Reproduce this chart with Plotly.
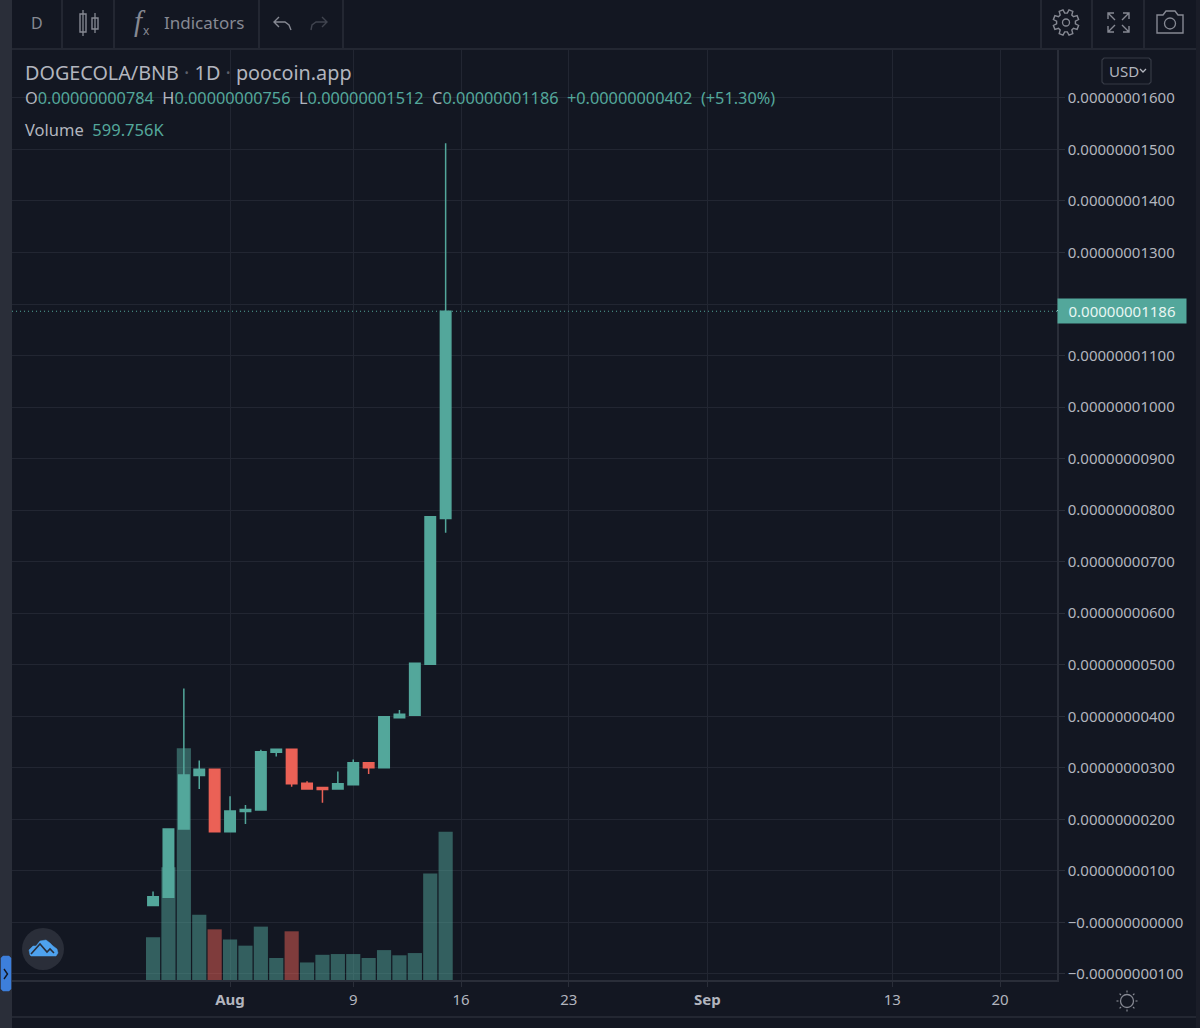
import math
import re
import plotly.graph_objects as go

# prices are in units of 1e-11 BNB, volume in thousands
dates = ["2021-07-27", "2021-07-28", "2021-07-29", "2021-07-30", "2021-07-31",
         "2021-08-01", "2021-08-02", "2021-08-03", "2021-08-04", "2021-08-05",
         "2021-08-06", "2021-08-07", "2021-08-08", "2021-08-09", "2021-08-10",
         "2021-08-11", "2021-08-12", "2021-08-13", "2021-08-14", "2021-08-15"]
opens = [33, 49, 181, 285, 297, 176, 215, 218, 330, 336, 270, 262, 259, 267, 310, 300, 397, 402, 501, 784]
closes = [50, 181, 286, 297, 176, 216, 219, 331, 336, 269, 259, 258, 269, 310, 300, 399, 404, 503, 787, 1186]
highs = [60, 181, 454, 314, 297, 245, 228, 335, 336, 336, 274, 262, 293, 316, 310, 399, 412, 503, 787, 1512]
lows = [33, 49, 181, 259, 176, 176, 191, 218, 322, 263, 259, 232, 259, 267, 288, 300, 397, 402, 501, 756]
volumes = [173, 456, 938, 264, 205, 164, 139, 216, 89, 197, 71, 102, 105, 105, 89, 121, 100, 109, 431, 600]
# only two volume bars are red in the picture
volume_red = ["2021-07-31", "2021-08-05"]

price_ticks = [1600, 1500, 1400, 1300, 1200, 1100, 1000, 900, 800, 700, 600, 500, 400, 300, 200, 100, 0, -100]
# the 1200 label sits behind the last price tag
price_labels = ["0.00000001600", "0.00000001500", "0.00000001400", "0.00000001300", "",
                "0.00000001100", "0.00000001000", "0.00000000900", "0.00000000800", "0.00000000700",
                "0.00000000600", "0.00000000500", "0.00000000400", "0.00000000300", "0.00000000200",
                "0.00000000100", "\u22120.00000000000", "\u22120.00000000100"]
date_ticks = ["2021-08-01", "2021-08-09", "2021-08-16", "2021-08-23", "2021-09-01", "2021-09-13", "2021-09-20"]
date_labels = ["<b>Aug</b>", "9", "16", "23", "<b>Sep</b>", "13", "20"]
last_close = 1186

W, H = 1200, 1028
L, R, T, B = 12, 1057, 50, 980
BG = "#131722"
GRID = "#222632"
EDGE = "#2a2e39"
TEXT = "#b2b5be"
ICON = "#868993"
UP = "#53a79b"
DOWN = "#eb6156"
FONT = "Noto Sans, sans-serif"


def fx(x):
    return (x - L) / (R - L)


def fy(y):
    return (B - y) / (B - T)


def path(d):
    # pixel path -> paper path
    nums = iter(re.findall(r"[MLZ]|-?[\d.]+", d))
    out = []
    for tok in nums:
        if tok in "MLZ":
            out.append(tok)
        else:
            out.append(f"{fx(float(tok))},{fy(float(next(nums)))}")
    s = ""
    for tok in out:
        s += tok if tok in "MLZ" else tok + " "
    return s


shapes = []
notes = []


def line_px(x0, y0, x1, y1, color=EDGE, width=1.5):
    shapes.append(dict(type="line", xref="paper", yref="paper", x0=fx(x0), x1=fx(x1), y0=fy(y0), y1=fy(y1),
                       line=dict(color=color, width=width)))


def rect_px(x0, y0, x1, y1, fill, color=None, width=0):
    shapes.append(dict(type="rect", xref="paper", yref="paper", x0=fx(x0), x1=fx(x1), y0=fy(y0), y1=fy(y1),
                       fillcolor=fill, line=dict(color=color or fill, width=width)))


def circle_px(cx, cy, r, fill="rgba(0,0,0,0)", color=ICON, width=1.3):
    shapes.append(dict(type="circle", xref="paper", yref="paper", x0=fx(cx - r), x1=fx(cx + r),
                       y0=fy(cy + r), y1=fy(cy - r), fillcolor=fill, line=dict(color=color, width=width)))


def path_px(d, color=ICON, width=1.4, fill="rgba(0,0,0,0)"):
    shapes.append(dict(type="path", xref="paper", yref="paper", path=path(d), fillcolor=fill,
                       line=dict(color=color, width=width)))


def text_px(x, y, text, size=15, color=TEXT, anchor="left", family=FONT):
    notes.append(dict(x=fx(x), y=fy(y), xref="paper", yref="paper", text=text, showarrow=False,
                      xanchor=anchor, yanchor="middle", align="left", borderpad=0,
                      font=dict(family=family, size=size, color=color)))


# frame
rect_px(0, 0, 12, H, EDGE)
rect_px(1196, 0, W, H, "#1a1d28")
line_px(12, 49, 1196, 49)
line_px(12, 1017, 1196, 1017)
for sep in [62, 114, 259, 343, 1041, 1092, 1144]:
    line_px(sep, 0, sep, 48)

# toolbar
text_px(37, 23, "D", 16, ICON, "center")
line_px(83, 10, 83, 36, ICON, 1.3)
path_px("M 80 14 L 86 14 L 86 32 L 80 32 Z")
line_px(95, 13, 95, 33, ICON, 1.3)
path_px("M 92 18 L 98 18 L 98 29 L 92 29 Z")
text_px(140, 21, "<i>f</i>", 29, ICON, "center", "Liberation Serif")
text_px(146, 30, "x", 12, ICON, "center")
text_px(163, 23, "Indicators", 17, ICON)
path_px("M 279 17 L 274 22 L 279 27 M 274 22 L 285 22 L 289 25 L 291 30", ICON, 1.4)
path_px("M 322 17 L 327 22 L 322 27 M 327 22 L 316 22 L 312 25 L 311 30", "#40444f", 1.4)

# gear
gear = []
for i in range(8):
    a = i * math.pi / 4 - math.pi / 8
    for da, r in [(-0.26, 9.5), (-0.16, 13), (0.16, 13), (0.26, 9.5)]:
        gear.append(f"{1066 + r * math.cos(a + da):.1f} {22.5 + r * math.sin(a + da):.1f}")
path_px("M " + " L ".join(gear) + " Z")
circle_px(1066, 22.5, 3.5)

# fullscreen
path_px("M 1108 19 L 1108 13 L 1114 13 M 1108 13 L 1115 20")
path_px("M 1129 19 L 1129 13 L 1123 13 M 1129 13 L 1122 20")
path_px("M 1108 26 L 1108 32 L 1114 32 M 1108 32 L 1115 25")
path_px("M 1129 26 L 1129 32 L 1123 32 M 1129 32 L 1122 25")

# camera
path_px("M 1157 15 L 1163 15 L 1166 11 L 1175 11 L 1178 15 L 1183 15 L 1183 33 L 1157 33 Z")
circle_px(1170, 23.5, 5.5)

# USD button
path_px("M 1104 58 L 1149 58 L 1151 60 L 1151 82 L 1149 84 L 1104 84 L 1102 82 L 1102 60 Z", "#363a45", 1.2)
text_px(1108, 71, "USD", 15, TEXT)
path_px("M 1140 69 L 1143 72 L 1146 69", TEXT, 1.3)

# legend
text_px(24, 72, "DOGECOLA/BNB <span style='color:#5d606b'>\u00b7</span> 1D "
                "<span style='color:#5d606b'>\u00b7</span> poocoin.app", 19.8)
up = f"<span style='color:{UP}'>"
gap = "\u00a0\u00a0"
text_px(24, 98.5, f"O{up}0.00000000784</span>{gap}H{up}0.00000000756</span>{gap}L{up}0.00000001512</span>{gap}"
                  f"C{up}0.00000001186</span>{gap}{up}+0.00000000402{gap}(+51.30%)</span>", 16.3)
text_px(24, 129, f"Volume{gap}{up}599.756K</span>", 16.5)

# last price line and tag
shapes.append(dict(type="line", xref="paper", yref="y", x0=0, x1=1, y0=last_close, y1=last_close,
                   line=dict(color=UP, width=1, dash="1px,3px")))
notes.append(dict(x=fx(1057), y=last_close, xref="paper", yref="y", text="0.00000001186", showarrow=False,
                  xanchor="left", yanchor="middle", width=126, height=22, align="center", bgcolor=UP,
                  font=dict(family=FONT, size=15, color="#e8f6f3")))
line_px(1057, 310.5, 1062, 310.5, "#e8f6f3", 1)

# logo and side tab
circle_px(43, 949, 21, EDGE, EDGE, 0)
path_px("M 30 955 L 29 950 L 33 946 L 36 946 L 40 941 L 46 940 L 50 943 L 53 946 L 57 949 L 58 953 L 56 956 L 31 956 Z",
        "#4ea2ee", 0.5, "#4ea2ee")
path_px("M 31 954 L 40 944 L 47 952 L 50 949 L 54 953", EDGE, 1.6)
path_px("M 3 956 L 9 956 L 11 958 L 11 989 L 9 991 L 3 991 L 1 989 L 1 958 Z", "#3d7fdb", 0.5, "#3d7fdb")
path_px("M 4 969 L 7.5 974 L 4 979", "#131722", 1.4)

# sun
circle_px(1127, 1001, 6.5)
for i in range(8):
    a = i * math.pi / 4
    line_px(1127 + 8.5 * math.cos(a), 1001 + 8.5 * math.sin(a), 1127 + 10.5 * math.cos(a),
            1001 + 10.5 * math.sin(a), ICON, 1.2)

fig = go.Figure()

fig.add_trace(go.Candlestick(
    x=dates, open=opens, high=highs, low=lows, close=closes, yaxis="y", xaxis="x",
    increasing=dict(line=dict(color=UP, width=1.5), fillcolor=UP),
    decreasing=dict(line=dict(color=DOWN, width=1.5), fillcolor=DOWN),
    whiskerwidth=0, showlegend=False,
))

vol_colors = ["rgba(235,97,86,0.5)" if d in volume_red else "rgba(83,167,155,0.5)" for d in dates]
fig.add_trace(go.Bar(x=dates, y=volumes, yaxis="y2", marker=dict(color=vol_colors, line=dict(width=0)),
                     showlegend=False))

fig.update_layout(
    width=W,
    height=H,
    margin=dict(l=L, r=W - R, t=T, b=H - B),
    paper_bgcolor=BG,
    plot_bgcolor=BG,
    font=dict(family=FONT, size=15, color=TEXT),
    bargap=0.08,
    boxgap=0.32,
    boxgroupgap=0,
    shapes=shapes,
    annotations=notes,
    xaxis=dict(
        type="date",
        range=["2021-07-17 20:10", "2021-09-23 16:48"],
        rangeslider=dict(visible=False),
        tickmode="array",
        tickvals=date_ticks,
        ticktext=date_labels,
        ticks="outside",
        ticklen=5,
        tickcolor=EDGE,
        showgrid=True,
        gridcolor=GRID,
        showline=True,
        linecolor=EDGE,
        linewidth=1.5,
        zeroline=False,
        tickfont=dict(family=FONT, size=15, color=TEXT),
    ),
    yaxis=dict(
        side="right",
        range=[-111.8, 1693],
        tickmode="array",
        tickvals=price_ticks,
        ticktext=price_labels,
        ticks="outside",
        ticklen=6,
        tickcolor=EDGE,
        showgrid=True,
        gridcolor=GRID,
        showline=True,
        linecolor=EDGE,
        linewidth=1.5,
        zeroline=False,
        tickfont=dict(family=FONT, size=15, color=TEXT),
    ),
    yaxis2=dict(overlaying="y", side="left", range=[0, 3763], visible=False),
)

fig.write_html("out.html", config=dict(displayModeBar=False),
               post_script="document.body.style.margin='0';document.body.style.overflow='hidden';")
